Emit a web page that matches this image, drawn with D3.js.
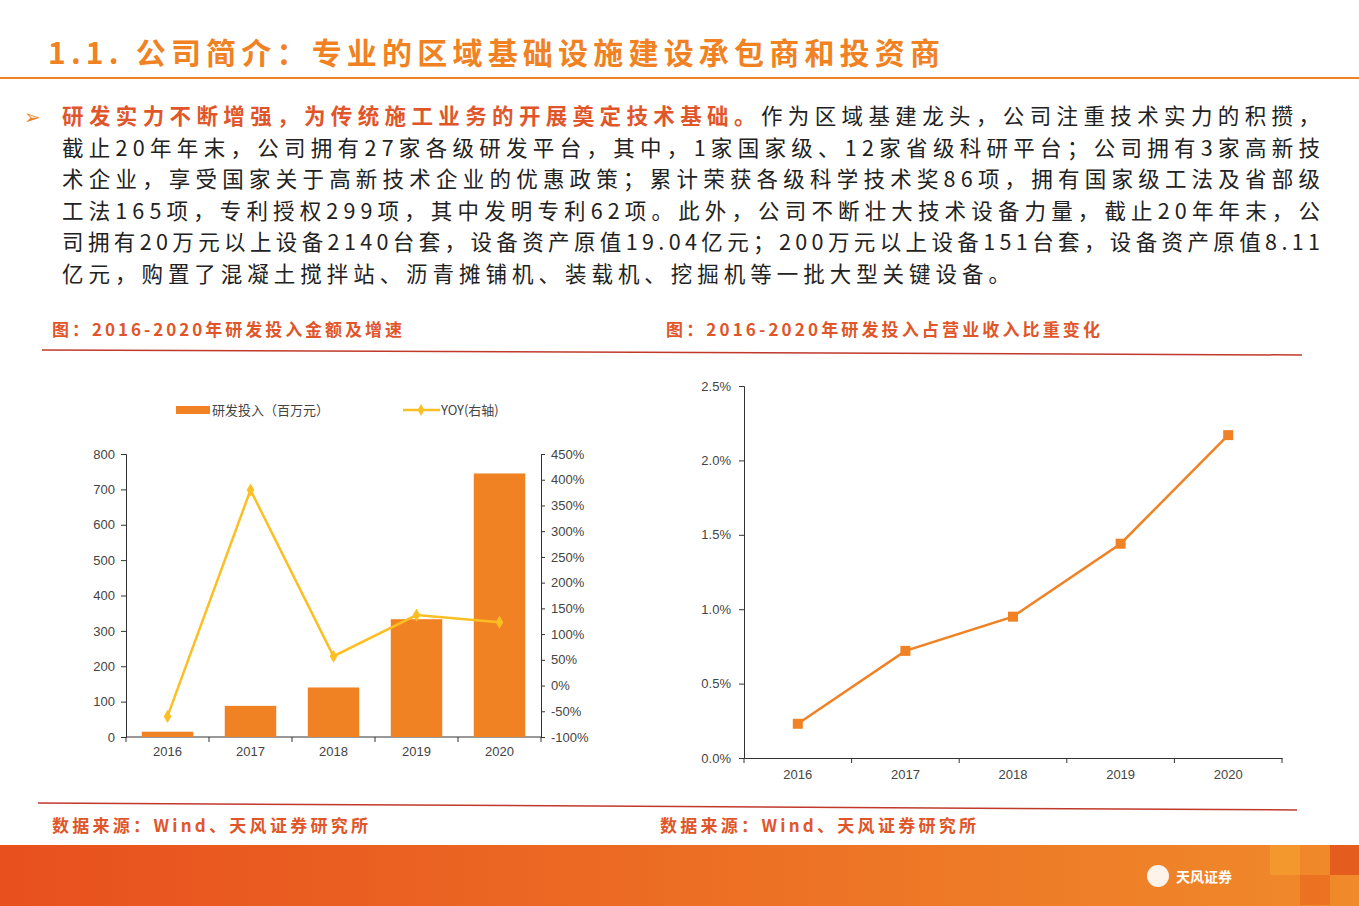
<!DOCTYPE html><html><head><meta charset="utf-8"><script src="https://cdn.jsdelivr.net/npm/d3@7"></script>
<style>body{margin:0;background:#fff;font-family:"Noto Sans CJK SC",sans-serif}</style></head><body><svg id="s" width="1359" height="906"></svg>
<script>
const years=["2016","2017","2018","2019","2020"];
const rdSpend=[15,88,140,333,745];
const yoy=[-60,380,57,137,123];
const ratio=[0.23,0.72,0.95,1.44,2.17];
const leftTicks=[0,100,200,300,400,500,600,700,800];
const rightTicks=[-100,-50,0,50,100,150,200,250,300,350,400,450];
const ratioTicks=[0,0.5,1,1.5,2,2.5];
const para=["研发实力不断增强，为传统施工业务的开展奠定技术基础。作为区域基建龙头，公司注重技术实力的积攒，",
"截止20年年末，公司拥有27家各级研发平台，其中，1家国家级、12家省级科研平台；公司拥有3家高新技",
"术企业，享受国家关于高新技术企业的优惠政策；累计荣获各级科学技术奖86项，拥有国家级工法及省部级",
"工法165项，专利授权299项，其中发明专利62项。此外，公司不断壮大技术设备力量，截止20年年末，公",
"司拥有20万元以上设备2140台套，设备资产原值19.04亿元；200万元以上设备151台套，设备资产原值8.11",
"亿元，购置了混凝土搅拌站、沥青摊铺机、装载机、挖掘机等一批大型关键设备。"];
const svg=d3.select("#s");
const OR="#f08223", RED="#c0392b";
svg.append("text").attr("x",48).attr("y",64).attr("fill",OR).attr("font-size",30).attr("font-weight","bold").attr("textLength",892).attr("lengthAdjust","spacing").text("1.1. 公司简介：专业的区域基础设施建设承包商和投资商");
svg.append("line").attr("x1",0).attr("x2",1359).attr("y1",78).attr("y2",78).attr("stroke",OR).attr("stroke-width",2);
svg.append("text").attr("x",24).attr("y",124).attr("fill",OR).attr("font-size",20).text("➢");
para.forEach((t,i)=>{
  const tx=svg.append("text").attr("x",62).attr("y",124+i*31.5).attr("font-size",21.5).attr("fill","#222")
   .attr("textLength",i<5?1258:948).attr("lengthAdjust","spacing");
  if(i==0){tx.append("tspan").attr("fill","#e0562a").attr("font-weight","bold").text(t.slice(0,26));tx.append("tspan").text(t.slice(26));}
  else tx.text(t);
});
[[52,"图：2016-2020年研发投入金额及增速",350],[666,"图：2016-2020年研发投入占营业收入比重变化",434]].forEach(([x,t,w])=>
 svg.append("text").attr("x",x).attr("y",336).attr("fill","#e0562a").attr("font-size",17).attr("font-weight","bold").attr("textLength",w).attr("lengthAdjust","spacing").text(t));
svg.append("line").attr("x1",42).attr("x2",1302).attr("y1",350).attr("y2",355).attr("stroke",RED).attr("stroke-width",1.5);
svg.append("line").attr("x1",38).attr("x2",1297).attr("y1",803).attr("y2",810).attr("stroke",RED).attr("stroke-width",1.5);
[[52,"数据来源：Wind、天风证券研究所"],[660,"数据来源：Wind、天风证券研究所"]].forEach(([x,t])=>
 svg.append("text").attr("x",x).attr("y",832).attr("fill","#e0562a").attr("font-size",17).attr("font-weight","bold").attr("textLength",316).attr("lengthAdjust","spacing").text(t));
const g=svg.append("defs").append("linearGradient").attr("id","gf");
g.append("stop").attr("offset","0").attr("stop-color","#e8501e");g.append("stop").attr("offset","1").attr("stop-color","#f08a2a");
svg.append("rect").attr("x",0).attr("y",845).attr("width",1359).attr("height",61).attr("fill","url(#gf)");
[[1270,845,"#f5a030"],[1300,875,"#e96a20"],[1330,845,"#e04a1a"]].forEach(([x,y,c])=>svg.append("rect").attr("x",x).attr("y",y).attr("width",30).attr("height",30).attr("fill",c).attr("opacity",0.7));
svg.append("text").attr("x",1176).attr("y",882).attr("fill","#fff").attr("font-size",14).attr("font-weight","bold").text("天风证券");
svg.append("circle").attr("cx",1158).attr("cy",876).attr("r",11).attr("fill","#fff").attr("opacity",0.9);
const x=d3.scaleBand().domain(years).range([126,541]).paddingInner(0.38).paddingOuter(0.19);
const yL=d3.scaleLinear().domain([0,800]).range([737,454]);
const yR=d3.scaleLinear().domain([-100,450]).range([737,454]);
const fs=13,tc="#444";
const ax=(sel)=>{sel.selectAll("text").attr("font-size",fs).attr("fill",tc).attr("font-family","Liberation Sans, Arial");sel.selectAll("path,line").attr("stroke","#333");};
svg.append("g").attr("transform","translate(126,0)").call(d3.axisLeft(yL).tickValues(leftTicks).tickSize(5).tickPadding(6)).call(ax);
svg.append("g").attr("transform","translate(541,0)").call(d3.axisRight(yR).tickValues(rightTicks).tickFormat(d=>d+"%").tickSize(4).tickPadding(6)).call(ax);
const xa=svg.append("g").attr("transform","translate(0,737)").call(d3.axisBottom(x).tickSize(0).tickPadding(10)).call(ax);
xa.selectAll(".domain").attr("d","M126,0H541");
years.forEach((d,i)=>{const xx=126+i*83;xa.append("line").attr("x1",xx).attr("x2",xx).attr("y1",0).attr("y2",5).attr("stroke","#333");});
xa.append("line").attr("x1",541).attr("x2",541).attr("y1",0).attr("y2",5).attr("stroke","#333");
svg.selectAll(".bar").data(rdSpend).join("rect").attr("x",(d,i)=>x(years[i])).attr("width",x.bandwidth()).attr("y",d=>yL(d)).attr("height",d=>737-yL(d)).attr("fill",OR);
const cx=i=>x(years[i])+x.bandwidth()/2;
svg.append("path").attr("d",d3.line().x((d,i)=>cx(i)).y(d=>yR(d))(yoy)).attr("fill","none").attr("stroke","#fbbf24").attr("stroke-width",2.5);
yoy.forEach((d,i)=>svg.append("path").attr("d",d3.symbol(d3.symbolDiamond,50)()).attr("transform",`translate(${cx(i)},${yR(d)})`).attr("fill","#fbbf24"));
svg.append("rect").attr("x",176).attr("y",406).attr("width",34).attr("height",8).attr("fill",OR);
svg.append("text").attr("x",212).attr("y",415).attr("font-size",13).attr("fill",tc).text("研发投入（百万元）");
svg.append("line").attr("x1",403).attr("x2",440).attr("y1",410).attr("y2",410).attr("stroke","#fbbf24").attr("stroke-width",2.5);
svg.append("path").attr("d",d3.symbol(d3.symbolDiamond,40)()).attr("transform","translate(421,410)").attr("fill","#fbbf24");
svg.append("text").attr("x",441).attr("y",415).attr("font-size",13).attr("fill",tc).text("YOY(右轴)");
const x2=d3.scaleBand().domain(years).range([744,1282]);
const y2=d3.scaleLinear().domain([0,2.5]).range([758,386]);
svg.append("g").attr("transform","translate(744,0)").call(d3.axisLeft(y2).tickValues(ratioTicks).tickFormat(d=>d.toFixed(1)+"%").tickSize(5).tickPadding(8)).call(ax);
const xb=svg.append("g").attr("transform","translate(0,758)").call(d3.axisBottom(x2).tickSize(0).tickPadding(12)).call(ax);
years.concat(["end"]).forEach((d,i)=>{const xx=744+i*x2.step();xb.append("line").attr("x1",xx).attr("x2",xx).attr("y1",0).attr("y2",5).attr("stroke","#333");});
const c2=i=>x2(years[i])+x2.bandwidth()/2;
svg.append("path").attr("d",d3.line().x((d,i)=>c2(i)).y(d=>y2(d))(ratio)).attr("fill","none").attr("stroke",OR).attr("stroke-width",2.5);
ratio.forEach((d,i)=>svg.append("rect").attr("x",c2(i)-5).attr("y",y2(d)-5).attr("width",10).attr("height",10).attr("fill",OR));
</script></body></html>
